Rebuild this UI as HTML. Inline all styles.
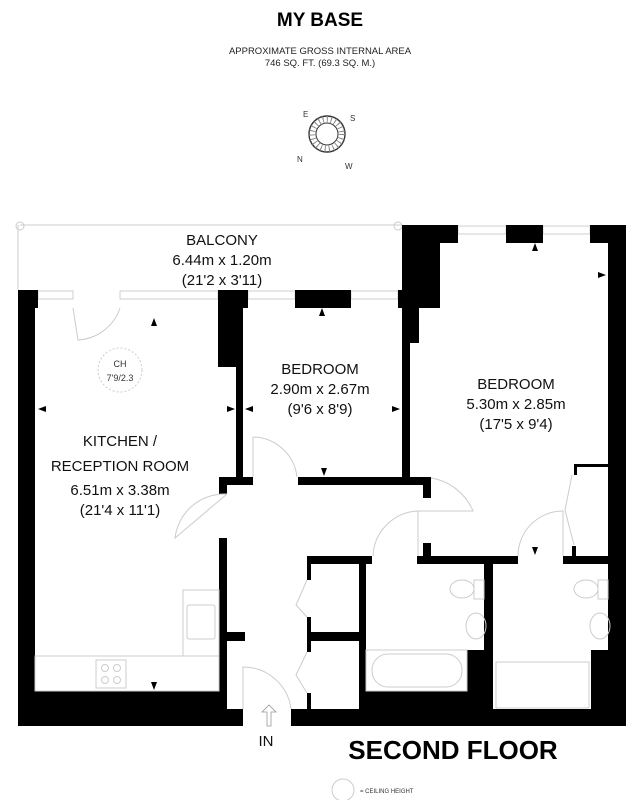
<!DOCTYPE html>
<html><head><meta charset="utf-8"><style>
html,body{margin:0;padding:0;background:#fff;}
svg{display:block;font-family:"Liberation Sans",Arial,sans-serif;}
</style></head><body>
<svg width="639" height="800" viewBox="0 0 639 800" xmlns="http://www.w3.org/2000/svg">
<rect width="639" height="800" fill="#fff"/>
<text x="320" y="26" font-size="19" font-weight="bold" text-anchor="middle">MY BASE</text>
<text x="320" y="54" font-size="9.5" text-anchor="middle" fill="#222">APPROXIMATE GROSS INTERNAL AREA</text>
<text x="320" y="66" font-size="9.5" text-anchor="middle" fill="#222">746 SQ. FT. (69.3 SQ. M.)</text>
<g stroke="#333" fill="none">
<circle cx="327" cy="134" r="18" stroke-width="1.4"/>
<circle cx="327" cy="134" r="11" stroke-width="1"/>
<circle cx="327" cy="134" r="14.5" stroke="#888" stroke-dasharray="1 3" stroke-width="7"/>
</g>
<g font-size="8" fill="#333"><text x="303" y="117">E</text><text x="350" y="121">S</text><text x="297" y="162">N</text><text x="345" y="169">W</text></g>
<g stroke="#ccc" fill="none" stroke-width="1">
<line x1="20" y1="225" x2="402" y2="225"/><line x1="18" y1="225" x2="18" y2="290"/>
<circle cx="20" cy="226" r="4"/><circle cx="398" cy="226" r="4"/>
</g>
<g fill="#fff" stroke="#bbb" stroke-width="0.7">
<rect x="38" y="291" width="35" height="8"/><rect x="120" y="291" width="98" height="8"/>
<rect x="248" y="291" width="47" height="8"/><rect x="351" y="291" width="47" height="8"/>
<rect x="458" y="226" width="48" height="8"/><rect x="543" y="226" width="47" height="8"/>
</g>
<g fill="#000">
<rect x="18" y="290" width="20" height="18"/>
<rect x="218" y="290" width="30" height="18"/>
<rect x="218" y="290" width="25" height="77"/>
<rect x="236" y="290" width="7" height="190"/>
<rect x="295" y="290" width="56" height="18"/>
<rect x="398" y="290" width="42" height="18"/>
<rect x="402" y="225" width="56" height="18"/>
<rect x="402" y="225" width="38" height="83"/>
<rect x="402" y="225" width="17" height="118"/>
<rect x="402" y="225" width="8" height="257"/>
<rect x="506" y="225" width="37" height="18"/>
<rect x="590" y="225" width="36" height="18"/>
<rect x="608" y="225" width="18" height="501"/>
<rect x="18" y="290" width="17" height="436"/>
<rect x="219" y="477" width="34" height="8"/>
<rect x="219" y="477" width="8" height="17"/>
<rect x="219" y="538" width="8" height="160"/>
<rect x="227" y="632" width="18" height="9"/>
<rect x="18" y="691" width="209" height="35"/>
<rect x="18" y="709" width="225" height="17"/>
<rect x="298" y="477" width="133" height="8"/>
<rect x="423" y="477" width="8" height="21"/>
<rect x="574" y="464" width="34" height="3"/>
<rect x="574" y="464" width="3" height="11"/>
<rect x="307" y="556" width="65" height="8"/>
<rect x="307" y="556" width="4" height="24"/>
<rect x="307" y="617" width="4" height="35"/>
<rect x="307" y="632" width="59" height="9"/>
<rect x="307" y="693" width="4" height="20"/>
<rect x="359" y="556" width="7" height="153"/>
<rect x="417" y="556" width="101" height="8"/>
<rect x="423" y="543" width="8" height="13"/>
<rect x="563" y="556" width="45" height="8"/>
<rect x="572" y="546" width="4" height="10"/>
<rect x="484" y="556" width="9" height="153"/>
<rect x="359" y="691" width="134" height="18"/>
<rect x="467" y="650" width="26" height="50"/>
<rect x="591" y="650" width="17" height="60"/>
<rect x="291" y="709" width="335" height="17"/>
</g>
<g stroke="#ccc" fill="none" stroke-width="1">
<path d="M73 308 L78 340 A47 47 0 0 0 120 308"/>
<path d="M253 437 A45 45 0 0 1 297 477 M253 437 L253 477"/>
<path d="M227 494 L175 538 A50 50 0 0 1 227 494"/>
<path d="M373 556 A47 47 0 0 1 418 511 L418 556"/>
<path d="M418 511 L473 511 A55 55 0 0 0 431 478"/>
<path d="M518 556 A45 45 0 0 1 563 511 L563 556"/>
<path d="M565 510 L572 475 M565 510 L574 545"/>
<path d="M291 709 A48 48 0 0 0 243 667 L243 709"/>
<path d="M307 580 L296 605 L307 617 M307 652 L296 675 L307 693"/>
<rect x="183" y="590" width="36" height="66"/><rect x="187" y="605" width="28" height="34" rx="2"/>
<rect x="35" y="656" width="184" height="35"/><rect x="96" y="660" width="30" height="28"/>
<circle cx="105" cy="668" r="3.5"/><circle cx="117" cy="668" r="3.5"/><circle cx="105" cy="680" r="3.5"/><circle cx="117" cy="680" r="3.5"/>
<rect x="366" y="650" width="101" height="41"/><rect x="372" y="654" width="90" height="33" rx="16"/>
<ellipse cx="462" cy="589" rx="12" ry="9"/><rect x="474" y="580" width="10" height="19"/>
<ellipse cx="476" cy="626" rx="10" ry="13"/>
<rect x="496" y="662" width="93" height="46"/>
<ellipse cx="586" cy="589" rx="12" ry="9"/><rect x="598" y="580" width="10" height="19"/>
<ellipse cx="600" cy="626" rx="10" ry="13"/>
<circle cx="120" cy="370" r="22" stroke-dasharray="2 2"/>
<circle cx="343" cy="790" r="11"/>
</g>
<g fill="#000">
<path d="M154 318 l-3 8 h6z"/><path d="M322 308 l-3 8 h6z"/><path d="M535 243 l-3 8 h6z"/>
<path d="M38 409 l8 -3 v6z"/><path d="M235 409 l-8 -3 v6z"/><path d="M245 409 l8 -3 v6z"/>
<path d="M400 409 l-8 -3 v6z"/><path d="M412 275 l8 -3 v6z"/><path d="M606 275 l-8 -3 v6z"/>
<path d="M324 476 l-3 -8 h6z"/><path d="M154 690 l-3 -8 h6z"/><path d="M535 555 l-3 -8 h6z"/>
</g>
<path d="M267 726 v-14 h-5 l7 -7 l7 7 h-5 v14z" fill="#fff" stroke="#999" stroke-width="0.8"/>
<g font-size="15" text-anchor="middle" fill="#111">
<text x="222" y="245">BALCONY</text><text x="222" y="265">6.44m x 1.20m</text><text x="222" y="285">(21'2 x 3'11)</text>
<text x="120" y="446">KITCHEN /</text><text x="120" y="471">RECEPTION ROOM</text><text x="120" y="495">6.51m x 3.38m</text><text x="120" y="515">(21'4 x 11'1)</text>
<text x="320" y="374">BEDROOM</text><text x="320" y="394">2.90m x 2.67m</text><text x="320" y="414">(9'6 x 8'9)</text>
<text x="516" y="389">BEDROOM</text><text x="516" y="409">5.30m x 2.85m</text><text x="516" y="429">(17'5 x 9'4)</text>
<text x="266" y="746">IN</text>
</g>
<text x="120" y="367" font-size="9" text-anchor="middle" fill="#333">CH</text>
<text x="120" y="381" font-size="9" text-anchor="middle" fill="#333">7'9/2.3</text>
<text x="453" y="759" font-size="26" font-weight="bold" text-anchor="middle">SECOND FLOOR</text>
<text x="360" y="793" font-size="6" fill="#333">= CEILING HEIGHT</text>
</svg>
</body></html>
